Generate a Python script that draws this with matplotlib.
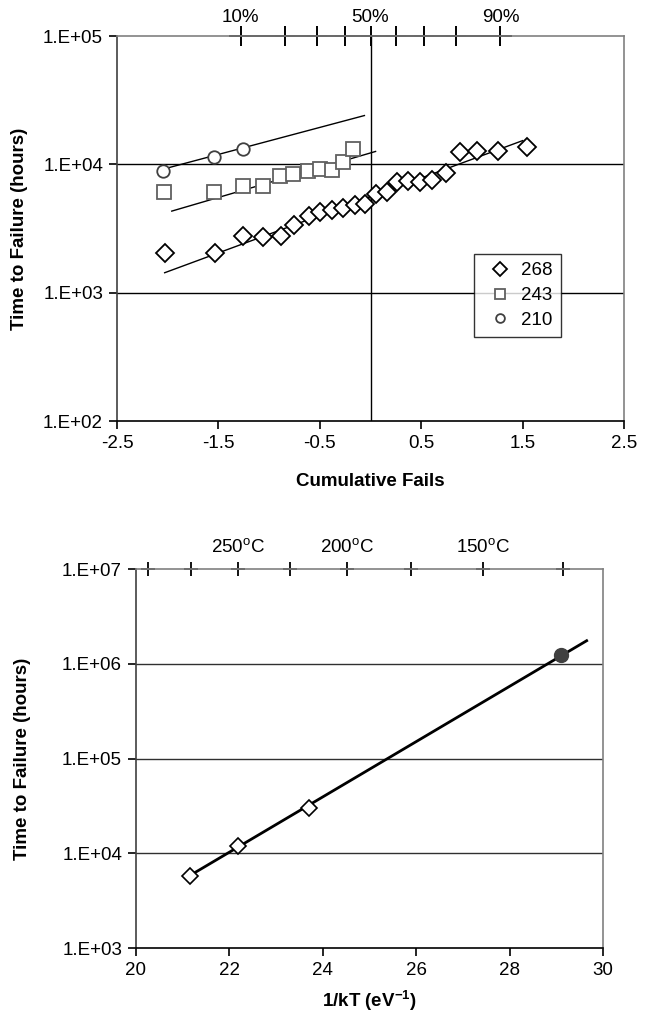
import numpy as np
import matplotlib
matplotlib.use("Agg")
import matplotlib.pyplot as plt
from matplotlib.ticker import FixedLocator, FuncFormatter, NullLocator

plt.rcParams['font.family'] = ['Liberation Sans', 'DejaVu Sans']
plt.rcParams['mathtext.fontset'] = 'custom'
plt.rcParams['mathtext.rm'] = 'Liberation Sans'
plt.rcParams['mathtext.bf'] = 'Liberation Sans:bold'
plt.rcParams['font.size'] = 13.5
plt.rcParams['axes.unicode_minus'] = False

# --- top chart: lognormal plot, three stress temperatures ---
x268 = [-2.03, -1.53, -1.26, -1.06, -0.88, -0.75, -0.61, -0.50, -0.38, -0.27, -0.15, -0.05,
        0.05, 0.16, 0.26, 0.37, 0.49, 0.61, 0.74, 0.88, 1.05, 1.26, 1.54]
y268 = [2040, 2040, 2770, 2710, 2770, 3380, 3960, 4240, 4400, 4560, 4810, 4950,
        5860, 6070, 7250, 7380, 7250, 7500, 8520, 12400, 12600, 12800, 13600]
x243 = [-2.04, -1.54, -1.26, -1.06, -0.89, -0.76, -0.62, -0.50, -0.38, -0.27, -0.17]
y243 = [6070, 6070, 6760, 6760, 8070, 8370, 8830, 9150, 8980, 10400, 13100]
x210 = [-2.05, -1.54, -1.26]
y210 = [8830, 11500, 13100]

fit268_x = [-2.03, 1.50]
fit268_y = [1430, 15300]
fit243_x = [-1.96, 0.05]
fit243_y = [4320, 12600]
fit210_x = [-2.05, -0.06]
fit210_y = [9150, 24000]

pct_pos = [-1.2816, -0.8416, -0.5244, -0.2533, 0.0, 0.2533, 0.5244, 0.8416, 1.2816]
pct_labels = {-1.2816: "10%", 0.0: "50%", 1.2816: "90%"}

# --- bottom chart: Arrhenius plot ---
arr_x = [21.15, 22.18, 23.70]
arr_y = [5700, 12000, 30000]
use_x = [29.10]
use_y = [1.25e6]
arr_fit_x = [21.15, 29.65]
arr_fit_y = [5800, 1.75e6]
temps_c = [300, 275, 250, 225, 200, 175, 150, 125]
temp_labels = [250, 200, 150]
k_ev = 8.617e-5


def inv_kt(t):
    return 1.0 / (k_ev * (t + 273.15))


def sci_fmt(v, pos):
    return "1.E+%02d" % int(round(np.log10(v)))


def style_axes(ax):
    ax.set_yscale('log')
    ax.yaxis.set_minor_locator(NullLocator())
    ax.xaxis.set_minor_locator(NullLocator())
    ax.yaxis.set_major_formatter(FuncFormatter(sci_fmt))
    ax.spines['top'].set_color('#808080')
    ax.spines['right'].set_color('#808080')
    ax.spines['left'].set_color('#404040')
    ax.spines['bottom'].set_color('black')
    for s in ax.spines.values():
        s.set_linewidth(1.2)
    ax.tick_params(direction='out', length=6, width=1.2, labelsize=13.5, color='black', pad=4)


fig = plt.figure(figsize=(6.52, 10.13), dpi=100)

# top
ax1 = fig.add_axes([117 / 652, 1 - 421 / 1013, 507 / 652, 385 / 1013])
style_axes(ax1)
ax1.set_xlim(-2.5, 2.5)
ax1.set_ylim(1e2, 1e5)
ax1.xaxis.set_major_locator(FixedLocator([-2.5, -1.5, -0.5, 0.5, 1.5, 2.5]))
ax1.yaxis.set_major_locator(FixedLocator([1e2, 1e3, 1e4, 1e5]))
ax1.set_xticklabels(['-2.5', '-1.5', '-0.5', '0.5', '1.5', '2.5'])
for v in [1e3, 1e4]:
    ax1.axhline(v, color='black', lw=1.0, zorder=0)
ax1.axvline(0, color='black', lw=1.0, zorder=0)

ax1.plot(fit268_x, fit268_y, color='black', lw=1.0)
ax1.plot(fit243_x, fit243_y, color='black', lw=1.0)
ax1.plot(fit210_x, fit210_y, color='black', lw=1.0)
ax1.plot(x268, y268, 'D', ms=9.5, mfc='white', mec='black', mew=1.3, label='268')
ax1.plot(x243, y243, 's', ms=9.5, mfc='white', mec='#606060', mew=1.3, label='243')
ax1.plot(x210, y210, 'o', ms=9, mfc='white', mec='#404040', mew=1.3, label='210')

ax1.plot([pct_pos[0] - 0.1, pct_pos[-1] + 0.1], [1e5, 1e5], color='black', lw=1.4, clip_on=False)
ax1.plot(pct_pos, [1e5] * len(pct_pos), '+', ms=14, mew=1.4, color='black', clip_on=False)
for p, lab in pct_labels.items():
    ax1.annotate(lab, (p, 1e5), xytext=(0, 7), textcoords='offset points',
                 ha='center', va='bottom', fontsize=13.5)

leg = ax1.legend(loc='upper left', bbox_to_anchor=(0.704, 0.434), frameon=True, fancybox=False,
                 edgecolor='black', fontsize=13.5, markerscale=0.7, handlelength=1.9,
                 handletextpad=0.15, borderpad=0.45, labelspacing=0.4, borderaxespad=0)
leg.get_frame().set_linewidth(1.0)

ax1.set_xlabel('Cumulative Fails', fontweight='bold', fontsize=13.5)
ax1.xaxis.set_label_coords(0.5, -0.135)
ax1.set_ylabel('Time to Failure (hours)', fontweight='bold', fontsize=13.5)
ax1.yaxis.set_label_coords(-0.175, 0.5)

# bottom
ax2 = fig.add_axes([136 / 652, 1 - 948 / 1013, 467 / 652, 379 / 1013])
style_axes(ax2)
ax2.set_xlim(20, 30)
ax2.set_ylim(1e3, 1e7)
ax2.xaxis.set_major_locator(FixedLocator([20, 22, 24, 26, 28, 30]))
ax2.yaxis.set_major_locator(FixedLocator([1e3, 1e4, 1e5, 1e6, 1e7]))
for v in [1e4, 1e5, 1e6]:
    ax2.axhline(v, color='#303030', lw=1.0, zorder=0)

ax2.plot(arr_fit_x, arr_fit_y, color='black', lw=2.0)
ax2.plot(arr_x, arr_y, 'D', ms=8, mfc='white', mec='black', mew=1.2)
ax2.plot(use_x, use_y, 'o', ms=10, color='#404040')

tpos = [inv_kt(t) for t in temps_c]
ax2.plot(tpos, [1e7] * len(tpos), '+', ms=10, mew=1.3, color='black', clip_on=False)
for t in temp_labels:
    ax2.annotate('%d$^{\\mathrm{o}}$C' % t, (inv_kt(t), 1e7), xytext=(0, 9),
                 textcoords='offset points', ha='center', va='bottom', fontsize=13.5)

ax2.set_xlabel('1/kT (eV$^{\\mathbf{-1}}$)', fontweight='bold', fontsize=13.5)
ax2.xaxis.set_label_coords(0.5, -0.105)
ax2.set_ylabel('Time to Failure (hours)', fontweight='bold', fontsize=13.5)
ax2.yaxis.set_label_coords(-0.224, 0.5)

fig.savefig('out.png', dpi=100)
